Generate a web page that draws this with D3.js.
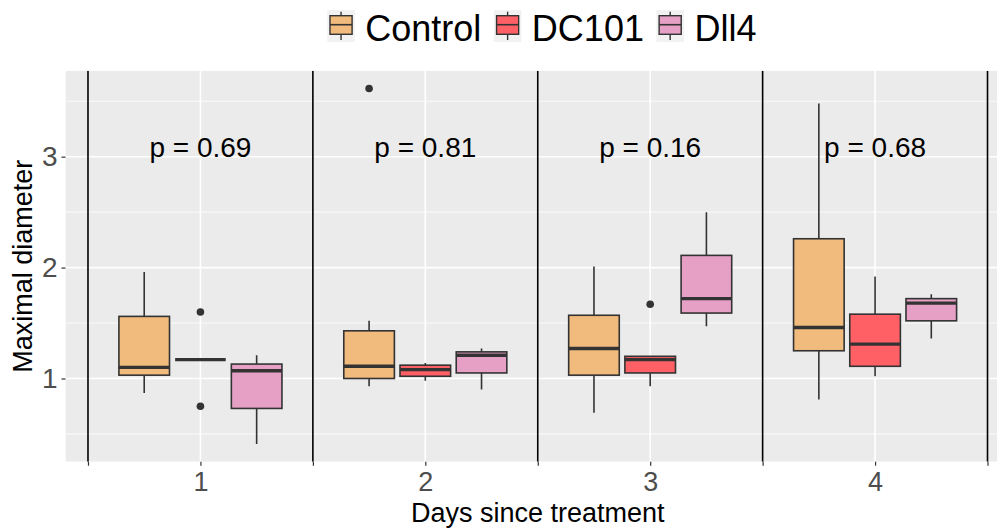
<!DOCTYPE html>
<html>
<head>
<meta charset="utf-8">
<script src="https://cdn.jsdelivr.net/npm/d3@7"></script>
<style>
  html, body { margin: 0; padding: 0; background: #fff; }
  svg { display: block; font-family: "Liberation Sans", Arial, Helvetica, sans-serif; }
</style>
</head>
<body>
<svg id="chart" width="998" height="528"></svg>
<script>
// Days on the x axis and treatment groups
const days = [1, 2, 3, 4];
const groups = ["Control", "DC101", "Dll4"];
const groupColors = ["#F0BB7C", "#FF6066", "#E6A0C5"];

// Box summaries per day: [lower whisker, Q1, median, Q3, upper whisker]
const controlStats = [
  [0.87, 1.03, 1.10, 1.56, 1.96],
  [0.93, 1.00, 1.11, 1.43, 1.52],
  [0.69, 1.03, 1.27, 1.57, 2.01],
  [0.81, 1.25, 1.46, 2.26, 3.48]
];
const dc101Stats = [
  [1.17, 1.17, 1.17, 1.17, 1.17],
  [0.98, 1.02, 1.08, 1.12, 1.14],
  [0.93, 1.05, 1.17, 1.20, 1.20],
  [1.02, 1.11, 1.31, 1.58, 1.92]
];
const dll4Stats = [
  [0.41, 0.73, 1.07, 1.13, 1.21],
  [0.90, 1.05, 1.21, 1.24, 1.27],
  [1.47, 1.59, 1.72, 2.11, 2.50],
  [1.36, 1.52, 1.68, 1.72, 1.76]
];

// Outlying observations: [day, group index, value]
const outlierDay = [1, 1, 2, 3];
const outlierGroup = [1, 1, 0, 1];
const outlierValue = [1.60, 0.75, 3.615, 1.67];

// Comparison p-values per day
const pLabels = ["p = 0.69", "p = 0.81", "p = 0.16", "p = 0.68"];
const pLabelY = 3;

const yTicks = [1, 2, 3];
const yMinor = [0.5, 1.5, 2.5, 3.5];
const separators = [0.5, 1.5, 2.5, 3.5, 4.5];

const statsByGroup = [controlStats, dc101Stats, dll4Stats];

const svg = d3.select("#chart");
const panel = { left: 65.5, top: 70.7, bottom: 461.7, right: 997 };

// x: continuous position of the day categories (discrete expansion of 0.6)
const x = d3.scaleLinear().domain([0.4, 4.6]).range([panel.left, 1010]);

// y: data range expanded by 5%
const allVals = statsByGroup.flat(2).concat(outlierValue);
const yLo = d3.min(allVals), yHi = d3.max(allVals);
const pad = (yHi - yLo) * 0.05;
const y = d3.scaleLinear().domain([yLo - pad, yHi + pad]).range([panel.bottom, panel.top]);

// dodge offsets within a day
const dodge = d3.scalePoint().domain(groups).range([-0.25, 0.25]);
const boxWidth = 0.225;

const defs = svg.append("defs");
defs.append("clipPath").attr("id", "panelClip")
  .append("rect")
  .attr("x", panel.left).attr("y", panel.top)
  .attr("width", panel.right - panel.left).attr("height", panel.bottom - panel.top);

const plot = svg.append("g").attr("clip-path", "url(#panelClip)");

plot.append("rect")
  .attr("x", panel.left).attr("y", panel.top)
  .attr("width", panel.right - panel.left).attr("height", panel.bottom - panel.top)
  .attr("fill", "#EBEBEB");

// minor grid
plot.selectAll(".minor").data(yMinor).join("line")
  .attr("x1", panel.left).attr("x2", panel.right)
  .attr("y1", d => y(d)).attr("y2", d => y(d))
  .attr("stroke", "#fff").attr("stroke-width", 0.8);

// major grid
plot.selectAll(".majorY").data(yTicks).join("line")
  .attr("x1", panel.left).attr("x2", panel.right)
  .attr("y1", d => y(d)).attr("y2", d => y(d))
  .attr("stroke", "#fff").attr("stroke-width", 1.6);
plot.selectAll(".majorX").data(days).join("line")
  .attr("x1", d => x(d)).attr("x2", d => x(d))
  .attr("y1", panel.top).attr("y2", panel.bottom)
  .attr("stroke", "#fff").attr("stroke-width", 1.6);

// day separators
plot.selectAll(".sep").data(separators).join("line")
  .attr("x1", d => x(d)).attr("x2", d => x(d))
  .attr("y1", panel.top).attr("y2", panel.bottom)
  .attr("stroke", "#000").attr("stroke-width", 1.6);

// boxes
const boxes = [];
groups.forEach((g, gi) => {
  statsByGroup[gi].forEach((s, di) => {
    boxes.push({ day: days[di], group: g, gi, lo: s[0], q1: s[1], med: s[2], q3: s[3], hi: s[4] });
  });
});

const bg = plot.selectAll(".box").data(boxes).join("g");
bg.append("line")
  .attr("x1", d => x(d.day + dodge(d.group))).attr("x2", d => x(d.day + dodge(d.group)))
  .attr("y1", d => y(d.hi)).attr("y2", d => y(d.q3))
  .attr("stroke", "#333").attr("stroke-width", 1.6);
bg.append("line")
  .attr("x1", d => x(d.day + dodge(d.group))).attr("x2", d => x(d.day + dodge(d.group)))
  .attr("y1", d => y(d.q1)).attr("y2", d => y(d.lo))
  .attr("stroke", "#333").attr("stroke-width", 1.6);
bg.append("rect")
  .attr("x", d => x(d.day + dodge(d.group) - boxWidth / 2))
  .attr("width", d => x(d.day + dodge(d.group) + boxWidth / 2) - x(d.day + dodge(d.group) - boxWidth / 2))
  .attr("y", d => y(d.q3))
  .attr("height", d => y(d.q1) - y(d.q3))
  .attr("fill", d => groupColors[d.gi])
  .attr("stroke", "#333").attr("stroke-width", 1.6);
bg.append("line")
  .attr("x1", d => x(d.day + dodge(d.group) - boxWidth / 2))
  .attr("x2", d => x(d.day + dodge(d.group) + boxWidth / 2))
  .attr("y1", d => y(d.med)).attr("y2", d => y(d.med))
  .attr("stroke", "#333").attr("stroke-width", 3.4);

// outliers
plot.selectAll(".out").data(outlierValue).join("circle")
  .attr("cx", (v, i) => x(outlierDay[i] + dodge(groups[outlierGroup[i]])))
  .attr("cy", v => y(v))
  .attr("r", 3.8)
  .attr("fill", "#333");

// p-value labels
plot.selectAll(".plab").data(pLabels).join("text")
  .attr("x", (t, i) => x(days[i]))
  .attr("y", y(pLabelY))
  .attr("text-anchor", "middle")
  .attr("font-size", 28)
  .attr("fill", "#000")
  .text(t => t);

// y axis
const yAxis = svg.append("g").attr("transform", `translate(${panel.left},0)`)
  .call(d3.axisLeft(y).tickValues(yTicks).tickSize(4).tickPadding(4).tickFormat(d3.format("d")));
yAxis.select(".domain").remove();
yAxis.selectAll("line").attr("stroke", "#333").attr("stroke-width", 1.2);
yAxis.selectAll("text").attr("font-size", 28).attr("fill", "#4D4D4D")
  .attr("font-family", "Liberation Sans, Arial, sans-serif");

// x axis: ticks at day centres and at separators
const xAxis = svg.append("g").attr("transform", `translate(0,${panel.bottom})`)
  .call(d3.axisBottom(x).tickValues(days.concat(separators)).tickSize(4).tickPadding(6)
    .tickFormat(d => Number.isInteger(d) ? d : ""));
xAxis.select(".domain").remove();
xAxis.selectAll("line").attr("stroke", "#333").attr("stroke-width", 1.2);
xAxis.selectAll("text").attr("font-size", 27).attr("fill", "#4D4D4D")
  .attr("font-family", "Liberation Sans, Arial, sans-serif");

// axis titles
svg.append("text")
  .attr("x", (panel.left + 1010) / 2).attr("y", 522)
  .attr("text-anchor", "middle").attr("font-size", 27).attr("fill", "#000")
  .text("Days since treatment");
svg.append("text")
  .attr("transform", `translate(32,${(panel.top + panel.bottom) / 2}) rotate(-90)`)
  .attr("text-anchor", "middle").attr("font-size", 27).attr("fill", "#000")
  .text("Maximal diameter");

// legend
const legend = svg.append("g");
const keyW = 27.5, keyH = 32, keyTop = 10, textGap = 10.5, itemGap = 12.5;
let cx = 0;
groups.forEach((g, i) => {
  const it = legend.append("g");
  it.append("rect").attr("x", 0).attr("y", keyTop).attr("width", keyW).attr("height", keyH).attr("fill", "#F2F2F2");
  it.append("line").attr("x1", keyW / 2).attr("x2", keyW / 2).attr("y1", keyTop + 1.7).attr("y2", keyTop + keyH - 2)
    .attr("stroke", "#333").attr("stroke-width", 1.4);
  it.append("rect").attr("x", 2.7).attr("y", keyTop + 5.7).attr("width", keyW - 5.4).attr("height", 18.6)
    .attr("fill", groupColors[i]).attr("stroke", "#333").attr("stroke-width", 1.4);
  it.append("line").attr("x1", 2.7).attr("x2", keyW - 2.7).attr("y1", keyTop + 14.7).attr("y2", keyTop + 14.7)
    .attr("stroke", "#333").attr("stroke-width", 1.6);
  const t = it.append("text").attr("x", keyW + textGap).attr("y", 40.5)
    .attr("font-size", 36).attr("fill", "#000").text(g);
  const w = keyW + textGap + t.node().getComputedTextLength();
  it.attr("transform", `translate(${cx},0)`);
  cx += w + itemGap;
});
legend.attr("transform", `translate(${327.3},0)`);
</script>
</body>
</html>
